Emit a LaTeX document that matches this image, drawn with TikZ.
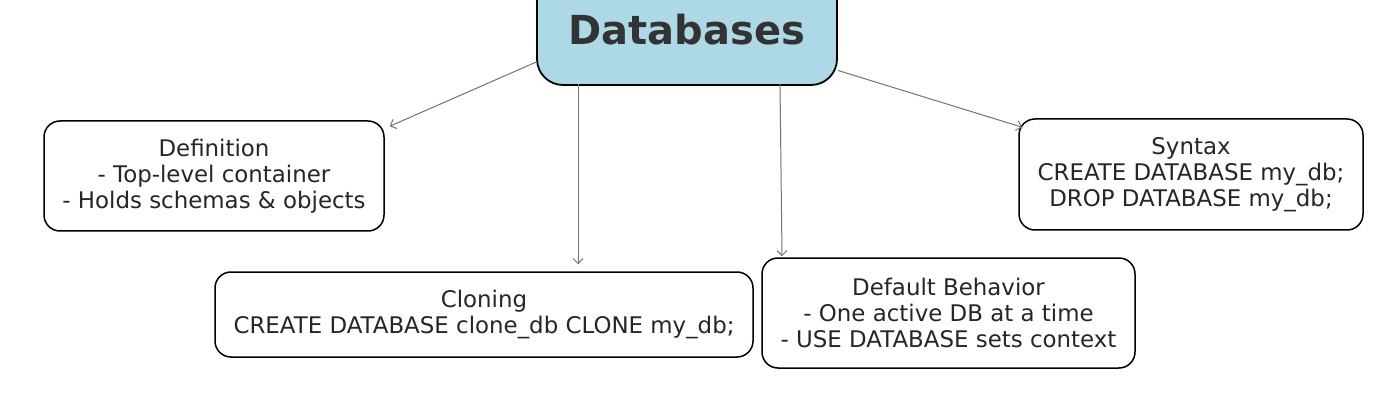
\documentclass[tikz,border=0pt]{standalone}
\usepackage{fontspec}
\setmainfont{DejaVu Sans}
\usetikzlibrary{arrows.meta}
\definecolor{txt}{HTML}{262626}
\definecolor{ttl}{HTML}{333333}
\definecolor{lblue}{HTML}{ADD8E6}
\begin{document}
\begin{tikzpicture}[x=1pt,y=-1pt,
  box/.style={draw=black,line width=1.5pt,rounded corners=16pt,fill=white,
    text=txt,align=center,inner sep=0pt,
    font=\fontsize{22.9}{26}\selectfont},
  titlebox/.style={draw=black,line width=1.8pt,rounded corners=26pt,fill=lblue,
    text=ttl,align=center,inner sep=0pt,
    font=\fontsize{40}{46}\selectfont\bfseries},
  arr/.style={draw=black!55,line width=1pt,-{Straight Barb[length=5pt,width=10pt]}}]
\useasboundingbox (0,0) rectangle (1400,398);
\begin{scope}
\clip (0,0) rectangle (1400,398);
\node[titlebox,minimum width=300pt,minimum height=110pt] (db) at (687,30) {Databases};
\end{scope}
\node[box,minimum width=340pt,minimum height=110pt] (def) at (214,176)
  {Definition\\- Top-level container\\- Holds schemas \& objects};
\node[box,minimum width=344pt,minimum height=111pt] (syn) at (1191,174.5)
  {Syntax\\CREATE DATABASE my\_db;\\DROP DATABASE my\_db;};
\node[box,minimum width=538pt,minimum height=85pt] (clo) at (484,314.5)
  {Cloning\\CREATE DATABASE clone\_db CLONE my\_db;};
\node[box,minimum width=373pt,minimum height=110pt] (dflt) at (948.5,313)
  {Default Behavior\\- One active DB at a time\\- USE DATABASE sets context};
\draw[arr] (db.192.4) -- ([xshift=5pt,yshift=-6pt]def.north east);
\draw[arr] ([xshift=-109pt,yshift=2pt]db.south) -- ([xshift=94pt,yshift=7pt]clo.north);
\draw[arr] ([xshift=93pt,yshift=2pt]db.south) -- ([xshift=-166.5pt,yshift=1pt]dflt.north);
\draw[arr] (db.-15.6) -- ([xshift=4pt,yshift=-9pt]syn.north west);
\end{tikzpicture}
\end{document}
